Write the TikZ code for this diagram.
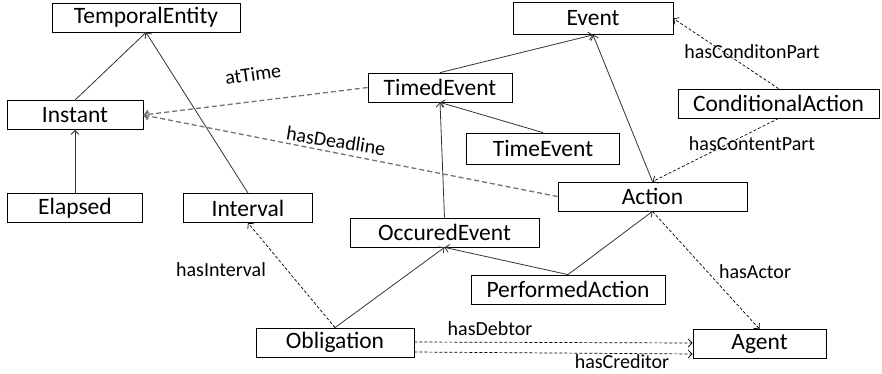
\documentclass[tikz,border=0pt]{standalone}
\usepackage{fontspec}
\setmainfont{Carlito}
\usepackage{tikz}
\usetikzlibrary{arrows.meta,positioning,calc}

\tikzset{
  cls/.style={draw, thick, rectangle, inner sep=0pt, minimum height=29pt,
    font=\fontsize{23.5}{26}\selectfont},
  isa/.style={-{Straight Barb[length=4pt,width=8pt]}, line width=0.8pt, black!80},
  rel/.style={-{Straight Barb[length=4pt,width=8pt]}, line width=0.7pt, dash pattern=on 3pt off 2pt},
  grel/.style={-{Straight Barb[length=4pt,width=8pt]}, line width=1.3pt, black!55, dash pattern=on 5pt off 3pt},
  lbl/.style={font=\fontsize{20}{22}\selectfont}
}

\begin{document}
\begin{tikzpicture}[x=1pt, y=-1pt]
  \useasboundingbox (0,0) rectangle (882,374);

  % Temporal classes
  \node[cls, minimum width=188pt] (tent) at (146,17.5) {TemporalEntity};
  \node[cls, minimum width=136pt] (inst) at (75,115) {Instant};
  \node[cls, minimum width=135pt] (elap) at (75,208) {Elapsed};
  \node[cls, minimum width=129pt] (intv) at (248,208) {Interval};

  % Event classes
  \node[cls, minimum width=160pt, minimum height=32pt] (evt) at (593,18.5) {Event};
  \node[cls, minimum width=144pt] (tevt) at (440,87.5) {TimedEvent};
  \node[cls, minimum width=153pt, minimum height=31pt] (timev) at (543,148.5) {TimeEvent};
  \node[cls, minimum width=201pt] (cact) at (778.5,103.5) {ConditionalAction};
  \node[cls, minimum width=189pt] (act) at (652.5,196.5) {Action};
  \node[cls, minimum width=189pt] (oevt) at (444.5,232.5) {OccuredEvent};
  \node[cls, minimum width=194pt] (pact) at (568,289.5) {PerformedAction};
  \node[cls, minimum width=158pt] (oblg) at (335,342.5) {Obligation};
  \node[cls, minimum width=133pt] (agnt) at (759.5,344) {Agent};

  % Subclass links
  \draw[isa] (inst.north) -- (tent.south);
  \draw[isa] (intv.north) -- (tent.south);
  \draw[isa] (elap.north) -- (inst.south);
  \draw[isa] (tevt.north) -- (evt.south);
  \draw[isa] (act.north) -- (evt.south);
  \draw[isa] (timev.north) -- (tevt.south);
  \draw[isa] (oevt.north) -- (tevt.south);
  \draw[isa] (pact.north) -- (oevt.south);
  \draw[isa] (pact.north) -- (act.south);
  \draw[isa] (oblg.north) -- (oevt.south);

  % Properties
  \draw[grel] (tevt.west) -- (inst.east);
  \draw[grel] (act.west) -- (inst.east);
  \draw[rel] (oblg.north) -- (intv.south);
  \draw[rel] (act.south) -- (agnt.north);
  \draw[rel] (cact.north) -- (evt.east);
  \draw[rel] (cact.south) -- (act.north);
  \draw[rel] ([yshift=0.5pt]oblg.east) -- ([yshift=1pt]agnt.west);
  \draw[rel] ([yshift=-9.5pt]oblg.east) -- ([yshift=-10pt]agnt.west);

  % Property labels
  \node[lbl, rotate=8] (latt) at (253,74) {atTime};
  \node[lbl, rotate=-9] (ldl) at (336,141) {hasDeadline};
  \node[lbl] (lint) at (221,270) {hasInterval};
  \node[lbl] (lact) at (755,272) {hasActor};
  \node[lbl] (lcond) at (752,52) {hasConditonPart};
  \node[lbl] (lcont) at (752,144) {hasContentPart};
  \node[lbl] (ldeb) at (490,329) {hasDebtor};
  \node[lbl] (lcred) at (622,362) {hasCreditor};
\end{tikzpicture}
\end{document}
